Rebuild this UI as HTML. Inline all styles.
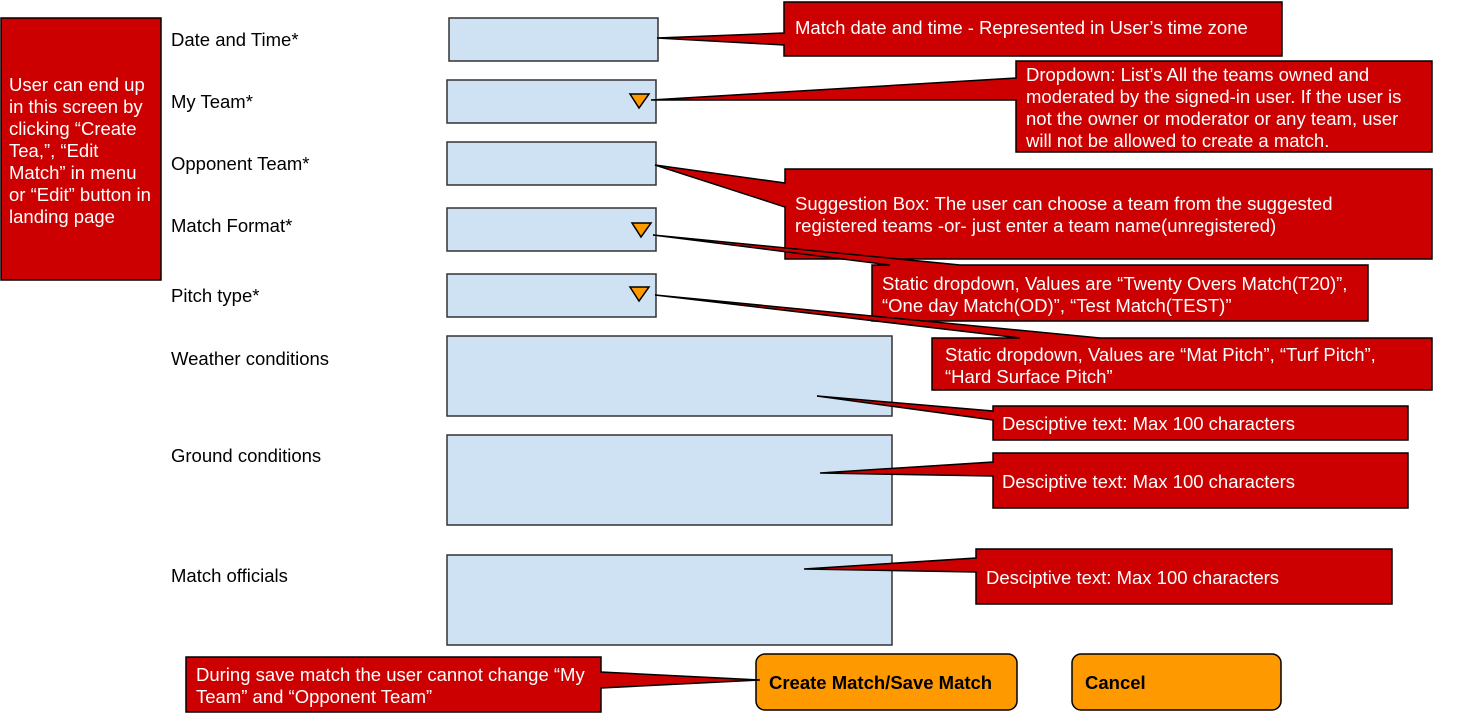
<!DOCTYPE html>
<html><head><style>
html,body{margin:0;padding:0;background:#fff;}
svg{display:block;font-family:"Liberation Sans",Arial,sans-serif;}
</style></head><body>
<svg width="1479" height="718" viewBox="0 0 1479 718" xmlns="http://www.w3.org/2000/svg">
<g fill="#cfe2f3" stroke="#333" stroke-width="1.5">
<rect x="449" y="18" width="209" height="43"/>
<rect x="447" y="80" width="209" height="43"/>
<rect x="447" y="142" width="209" height="43"/>
<rect x="447" y="208" width="209" height="43"/>
<rect x="447" y="274" width="209" height="43"/>
<rect x="447" y="336" width="445" height="80"/>
<rect x="447" y="435" width="445" height="90"/>
<rect x="447" y="555" width="445" height="90"/>
</g>
<g fill="#ff9900" stroke="#000" stroke-width="1.5">
<polygon points="630,94 649,94 639,108"/>
<polygon points="632,223 651,223 641,237"/>
<polygon points="630,287 649,287 639,301"/>
<rect x="756" y="654" width="261" height="56" rx="9"/>
<rect x="1072" y="654" width="209" height="56" rx="9"/>
</g>
<g fill="#cc0000" stroke="#000" stroke-width="1.5" stroke-linejoin="miter">
<rect x="1" y="18" width="160" height="262"/>
<polygon points="784,2 1282,2 1282,56 784,56 784,45 657,38 784,33"/>
<polygon points="1016,61 1432,61 1432,152 1016,152 1016,100 651,100 1016,78"/>
<polygon points="785,169 1432,169 1432,259 785,259 785,207 655,165 785,183"/>
<polygon points="872,265 890,265 653,235 960,265 1368,265 1368,321 872,321"/>
<polygon points="932,338 1020,338 655,295 1100,338 1432,338 1432,390 932,390"/>
<polygon points="993,406 1408,406 1408,440 993,440 993,420 817,396 993,411"/>
<polygon points="993,453 1408,453 1408,508 993,508 993,476 820,473 993,462"/>
<polygon points="976,549 1392,549 1392,604 976,604 976,572 804,569 976,558"/>
<polygon points="186,657 601,657 601,672 760,680 601,688 601,712 186,712"/>
</g>
<g font-size="18.5" fill="#000">
<text x="171" y="46">Date and Time*</text>
<text x="171" y="108">My Team*</text>
<text x="171" y="170">Opponent Team*</text>
<text x="171" y="232">Match Format*</text>
<text x="171" y="302">Pitch type*</text>
<text x="171" y="365">Weather conditions</text>
<text x="171" y="462">Ground conditions</text>
<text x="171" y="582">Match officials</text>
<text x="769" y="689" font-weight="bold">Create Match/Save Match</text>
<text x="1085" y="689" font-weight="bold">Cancel</text>
</g>
<g font-size="18.5" fill="#fff">
<text x="9" y="91">User can end up</text>
<text x="9" y="113">in this screen by</text>
<text x="9" y="135">clicking “Create</text>
<text x="9" y="157">Tea,”, “Edit</text>
<text x="9" y="179">Match” in menu</text>
<text x="9" y="201">or “Edit” button in</text>
<text x="9" y="223">landing page</text>
<text x="795" y="34">Match date and time - Represented in User’s time zone</text>
<text x="1026" y="81">Dropdown: List’s All the teams owned and</text>
<text x="1026" y="103">moderated by the signed-in user. If the user is</text>
<text x="1026" y="125">not the owner or moderator or any team, user</text>
<text x="1026" y="147">will not be allowed to create a match.</text>
<text x="795" y="210">Suggestion Box: The user can choose a team from the suggested</text>
<text x="795" y="232">registered teams -or- just enter a team name(unregistered)</text>
<text x="882" y="290">Static dropdown, Values are “Twenty Overs Match(T20)”,</text>
<text x="882" y="312">“One day Match(OD)”, “Test Match(TEST)”</text>
<text x="945" y="361">Static dropdown, Values are “Mat Pitch”, “Turf Pitch”,</text>
<text x="945" y="383">“Hard Surface Pitch”</text>
<text x="1002" y="430">Desciptive text: Max 100 characters</text>
<text x="1002" y="488">Desciptive text: Max 100 characters</text>
<text x="986" y="584">Desciptive text: Max 100 characters</text>
<text x="196" y="681">During save match the user cannot change “My</text>
<text x="196" y="703">Team” and “Opponent Team”</text>
</g>
</svg>
</body></html>
